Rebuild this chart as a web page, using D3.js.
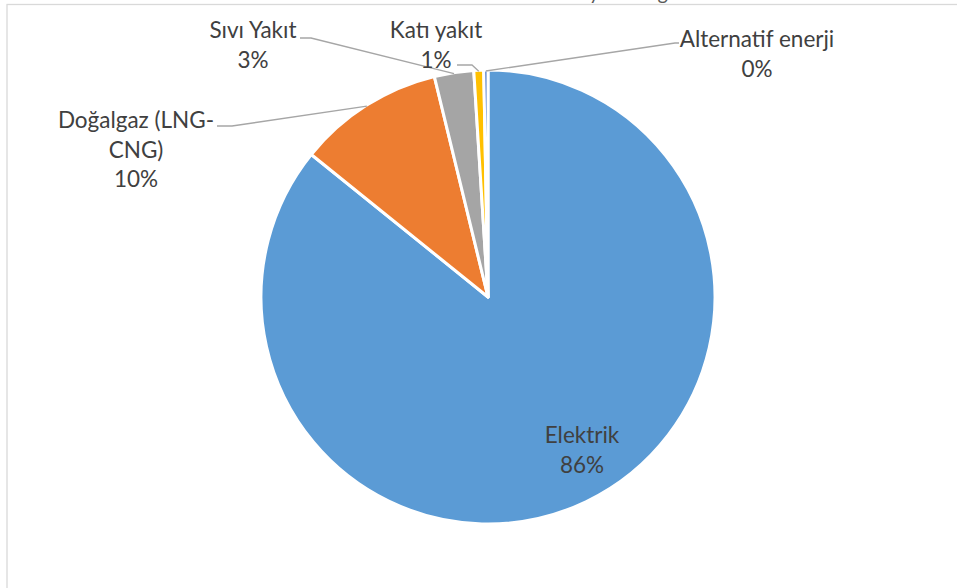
<!DOCTYPE html>
<html>
<head>
<meta charset="utf-8">
<script src="https://cdn.jsdelivr.net/npm/d3@7"></script>
<style>
  html, body { margin: 0; padding: 0; background: #fff; }
  svg { display: block; }
  text { font-family: Lato, "Open Sans", sans-serif; }
</style>
</head>
<body>
<svg id="chart" width="957" height="588"></svg>
<script>
// ---- data ----
const categories = ["Elektrik", "Doğalgaz (LNG-CNG)", "Sıvı Yakıt", "Katı yakıt", "Alternatif enerji"];
const values = [85.8, 10.4, 2.8, 0.7, 0.3];
const percentLabels = ["86%", "10%", "3%", "1%", "0%"];
const labelLines = [["Elektrik"], ["Doğalgaz (LNG-", "CNG)"], ["Sıvı Yakıt"], ["Katı yakıt"], ["Alternatif enerji"]];
const colors = ["#5B9BD5", "#ED7D31", "#A5A5A5", "#FFC000", "#4472C4"];
const titlePrefix = "Kullanılan ";
const titleMain = "yakıt dağılımı";

// ---- layout ----
const W = 957, H = 588;
const cx = 488, cy = 297, R = 227;
const fontSize = 22.5, lineH = 29.5;
const labelLayout = [
  { x: 582, y: 443 },
  { x: 136, y: 128, attach: [217, 126], elbow: [232, 126] },
  { x: 253, y: 38,  attach: [300, 38],  elbow: [311, 38] },
  { x: 436, y: 38,  attach: [457, 65],  elbow: [472, 65] },
  { x: 757, y: 47,  attach: [679, 43],  elbow: [675, 43] }
];

const svg = d3.select("#chart");

// frame (chart area border, cropped at right/bottom)
svg.append("rect")
  .attr("x", 7).attr("y", 4.5)
  .attr("width", W + 20).attr("height", H + 20)
  .attr("fill", "none").attr("stroke", "#d9d9d9").attr("stroke-width", 1.3);

// title (mostly cropped above the view, as in the reference)
const title = svg.append("text")
  .attr("y", -0.5)
  .attr("font-size", 20)
  .attr("fill", "#595959")
  .text(titlePrefix + titleMain);
const prefixW = title.node().getSubStringLength(0, titlePrefix.length);
title.attr("x", 589 - prefixW);

const data = categories.map((c, i) => ({ name: c, value: values[i], pct: percentLabels[i], lines: labelLines[i], color: colors[i] }));

const pie = d3.pie().sort(null).value(d => d.value).startAngle(0).endAngle(2 * Math.PI);
const arcs = pie(data);
const arc = d3.arc().innerRadius(0).outerRadius(R);

const g = svg.append("g").attr("transform", `translate(${cx},${cy})`);
g.selectAll("path.slice")
  .data(arcs)
  .join("path")
  .attr("class", "slice")
  .attr("d", arc)
  .attr("fill", d => d.data.color)
  .attr("stroke", "#fff")
  .attr("stroke-width", 3)
  .attr("stroke-linejoin", "round");

// leader lines
arcs.forEach((a, i) => {
  const L = labelLayout[i];
  if (!L.attach) return;
  const mid = (a.startAngle + a.endAngle) / 2;
  const ex = cx + Math.sin(mid) * (R - 1);
  const ey = cy - Math.cos(mid) * (R - 1);
  svg.append("polyline")
    .attr("points", [L.attach, L.elbow, [ex, ey]].map(p => p.join(",")).join(" "))
    .attr("fill", "none")
    .attr("stroke", "#a6a6a6")
    .attr("stroke-width", 1.3);
});

// labels
arcs.forEach((a, i) => {
  const L = labelLayout[i];
  const t = svg.append("text")
    .attr("text-anchor", "middle")
    .attr("font-size", fontSize)
    .attr("fill", "#404040");
  const lines = a.data.lines.concat([a.data.pct]);
  lines.forEach((ln, j) => {
    t.append("tspan").attr("x", L.x).attr("y", L.y + j * lineH).text(ln);
  });
});
</script>
</body>
</html>
